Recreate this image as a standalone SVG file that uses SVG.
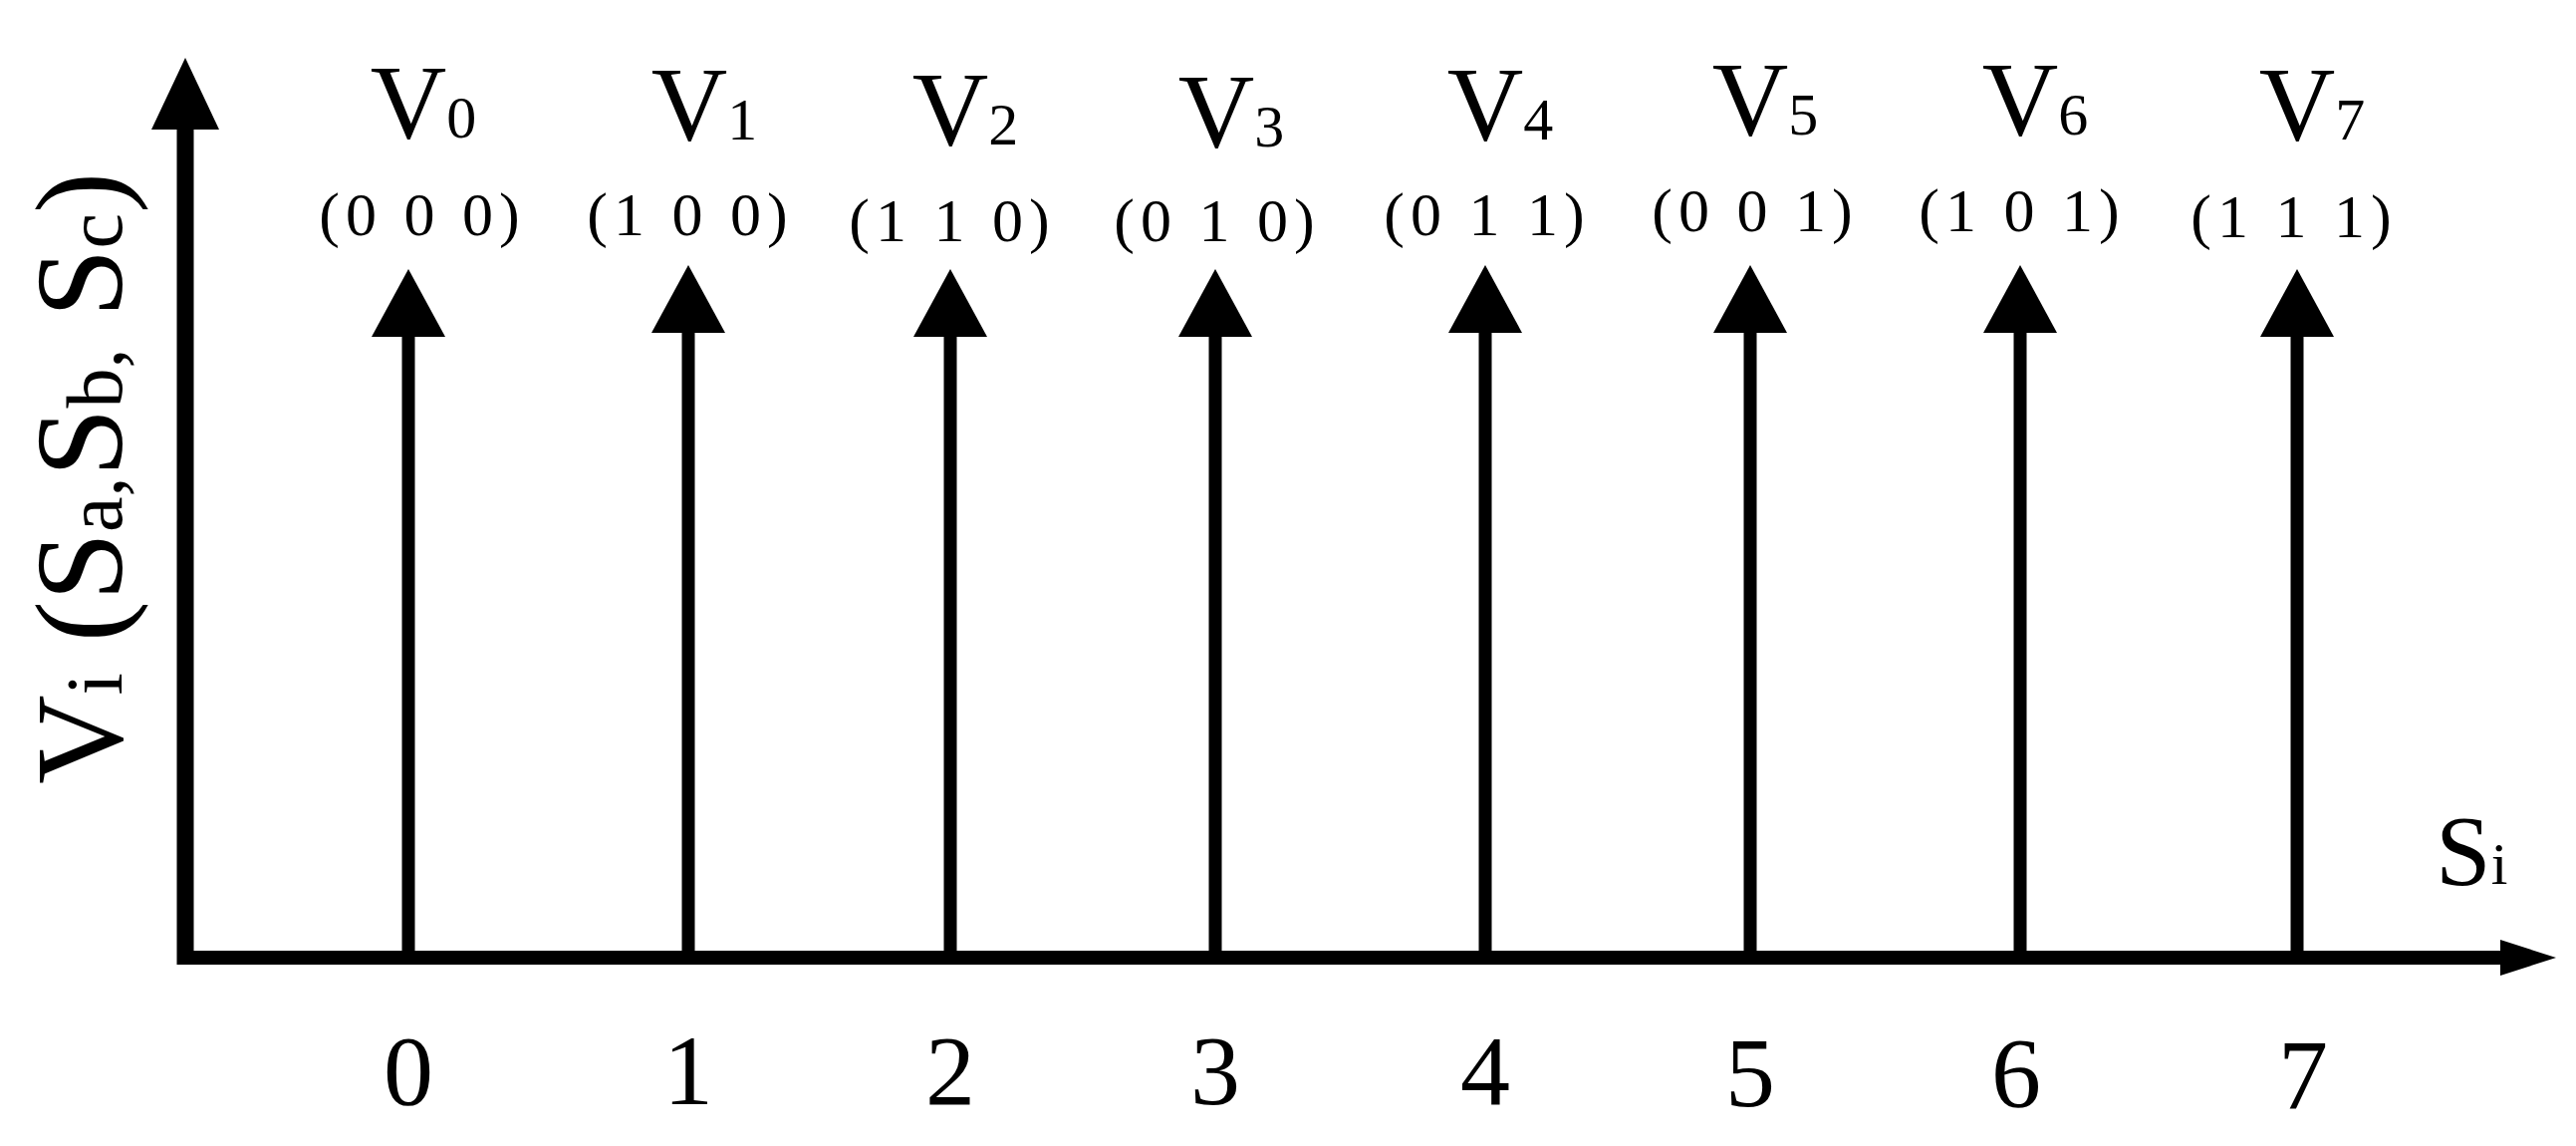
<svg xmlns="http://www.w3.org/2000/svg" width="2586" height="1150" viewBox="0 0 2586 1150">
<style>
text{font-family:"Liberation Serif","Times New Roman",serif;fill:#000}
.v{font-size:106px;text-anchor:middle}
.t{font-size:62px;text-anchor:middle;letter-spacing:6px}
.n{font-size:100px;text-anchor:middle}
.sub{font-size:60px}
.stem{stroke:#000;stroke-width:13}
</style>
<rect width="2586" height="1150" fill="#fff"/>
<g id="connectors">
<line x1="186" y1="968" x2="186" y2="125" stroke="#000" stroke-width="17"/>
<polygon points="186,58 152,130 220,130"/>
<line x1="178" y1="961" x2="2515" y2="961" stroke="#000" stroke-width="14"/>
<polygon points="2566,961 2510,943 2510,979"/>
</g>
<g id="stems">
<g id="s0"><line class="stem" x1="410" y1="961" x2="410" y2="334"/><polygon points="410,270 373,338 447,338"/></g>
<g id="s1"><line class="stem" x1="691" y1="961" x2="691" y2="334"/><polygon points="691,266 654,334 728,334"/></g>
<g id="s2"><line class="stem" x1="954" y1="961" x2="954" y2="334"/><polygon points="954,270 917,338 991,338"/></g>
<g id="s3"><line class="stem" x1="1220" y1="961" x2="1220" y2="334"/><polygon points="1220,270 1183,338 1257,338"/></g>
<g id="s4"><line class="stem" x1="1491" y1="961" x2="1491" y2="334"/><polygon points="1491,266 1454,334 1528,334"/></g>
<g id="s5"><line class="stem" x1="1757" y1="961" x2="1757" y2="334"/><polygon points="1757,266 1720,334 1794,334"/></g>
<g id="s6"><line class="stem" x1="2028" y1="961" x2="2028" y2="334"/><polygon points="2028,266 1991,334 2065,334"/></g>
<g id="s7"><line class="stem" x1="2306" y1="961" x2="2306" y2="334"/><polygon points="2306,270 2269,338 2343,338"/></g>
</g>
<g id="labels">
<text class="v" x="425" y="138">V<tspan class="sub">0</tspan></text>
<text class="v" x="707" y="140">V<tspan class="sub">1</tspan></text>
<text class="v" x="969" y="145">V<tspan class="sub">2</tspan></text>
<text class="v" x="1236" y="147">V<tspan class="sub">3</tspan></text>
<text class="v" x="1506" y="140">V<tspan class="sub">4</tspan></text>
<text class="v" x="1772" y="135">V<tspan class="sub">5</tspan></text>
<text class="v" x="2043" y="135">V<tspan class="sub">6</tspan></text>
<text class="v" x="2321" y="140">V<tspan class="sub">7</tspan></text>
<text class="t" x="424" y="236">(0 0 0)</text>
<text class="t" x="693" y="236">(1 0 0)</text>
<text class="t" x="956" y="242">(1 1 0)</text>
<text class="t" x="1222" y="242">(0 1 0)</text>
<text class="t" x="1493" y="236">(0 1 1)</text>
<text class="t" x="1762" y="232">(0 0 1)</text>
<text class="t" x="2030" y="232">(1 0 1)</text>
<text class="t" x="2303" y="238">(1 1 1)</text>
<text class="n" x="410" y="1108">0</text>
<text class="n" x="691" y="1108">1</text>
<text class="n" x="954" y="1108">2</text>
<text class="n" x="1220" y="1108">3</text>
<text class="n" x="1491" y="1108">4</text>
<text class="n" x="1757" y="1110">5</text>
<text class="n" x="2024" y="1110">6</text>
<text class="n" x="2312" y="1112">7</text>
<text x="2445" y="887" style="font-size:100px">S<tspan class="sub">i</tspan></text>
<text transform="translate(122,787) rotate(-90)" style="font-size:124px">V<tspan style="font-size:80px">i</tspan> (S<tspan style="font-size:80px">a,</tspan>S<tspan style="font-size:80px">b,</tspan> S<tspan style="font-size:80px">c</tspan>)</text>
</g>
</svg>
